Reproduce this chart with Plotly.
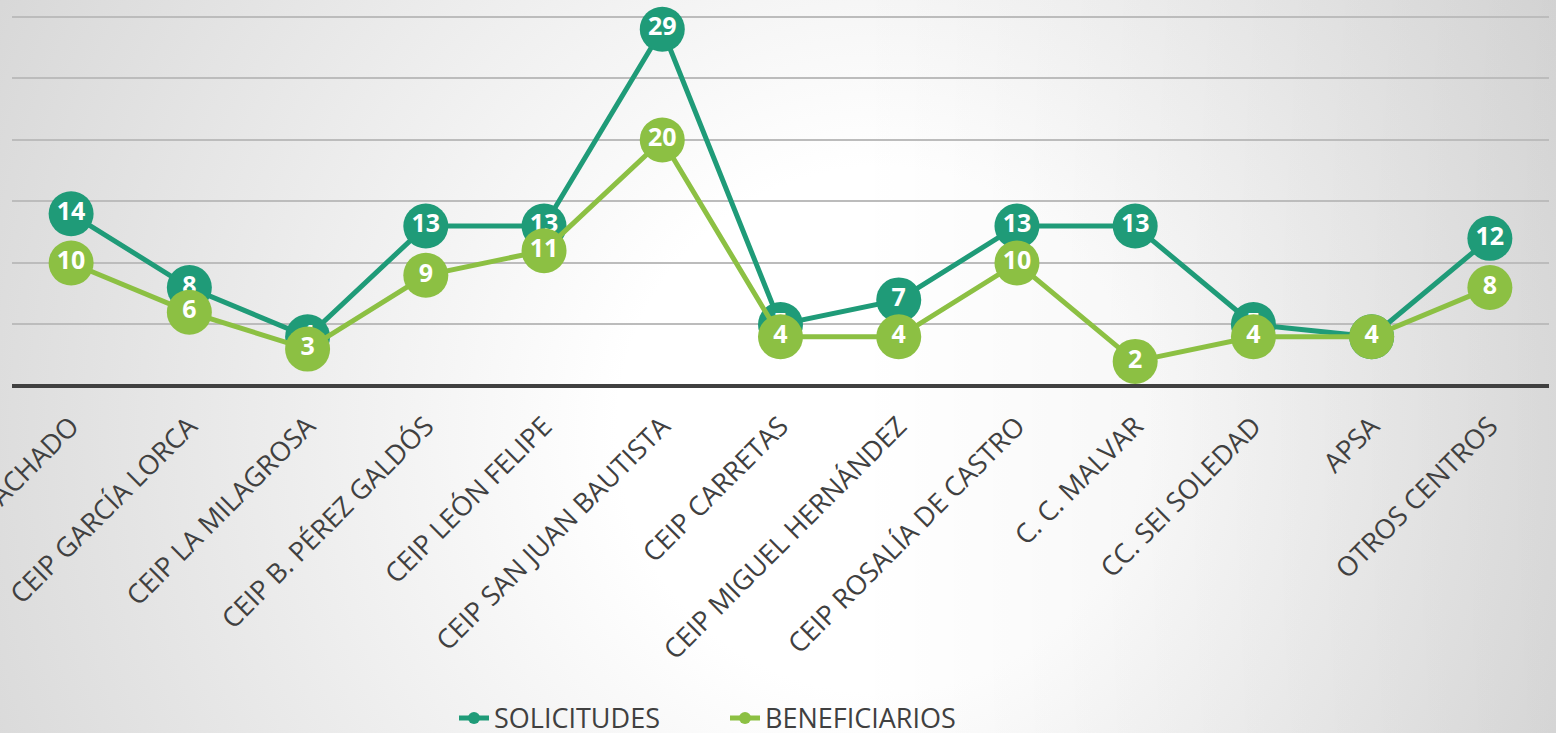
import base64
import plotly.graph_objects as go

categories = ["CEIP ANTONIO MACHADO", "CEIP GARCÍA LORCA", "CEIP LA MILAGROSA",
              "CEIP B. PÉREZ GALDÓS", "CEIP LEÓN FELIPE", "CEIP SAN JUAN BAUTISTA",
              "CEIP CARRETAS", "CEIP MIGUEL HERNÁNDEZ", "CEIP ROSALÍA DE CASTRO",
              "C. C. MALVAR", "CC. SEI SOLEDAD", "APSA", "OTROS CENTROS"]
solicitudes = [14, 8, 4, 13, 13, 29, 5, 7, 13, 13, 5, 4, 12]
beneficiarios = [10, 6, 3, 9, 11, 20, 4, 4, 10, 2, 4, 4, 8]

DARK = "#1f9b78"
LIGHT = "#8cc043"

svg = ('<svg xmlns="http://www.w3.org/2000/svg" width="1556" height="733" viewBox="0 0 1556 733" preserveAspectRatio="none">'
       '<defs><radialGradient id="g" gradientUnits="userSpaceOnUse" cx="880" cy="430" r="1050">'
       '<stop offset="0" stop-color="#ffffff"/><stop offset="0.25" stop-color="#ffffff"/>'
       '<stop offset="1" stop-color="#d4d4d4"/></radialGradient>'
       '<linearGradient id="h" x1="0" y1="0" x2="1" y2="0">'
       '<stop offset="0.55" stop-color="#000" stop-opacity="0"/>'
       '<stop offset="1" stop-color="#000" stop-opacity="0.07"/></linearGradient></defs>'
       '<rect width="1556" height="733" fill="url(#g)"/>'
       '<rect width="1556" height="733" fill="url(#h)"/></svg>')
src = "data:image/svg+xml;base64," + base64.b64encode(svg.encode()).decode()

fig = go.Figure()
for name, vals, col in [("SOLICITUDES", solicitudes, DARK), ("BENEFICIARIOS", beneficiarios, LIGHT)]:
    fig.add_trace(go.Scatter(
        x=categories, y=vals, name=name, mode="lines+markers+text",
        line=dict(color=col, width=5),
        marker=dict(color=col, size=45),
        text=[str(v) for v in vals], textposition="middle center",
        textfont=dict(family="Open Sans", size=25, color="white", weight="bold"),
        cliponaxis=False,
    ))

PH = 374  # plot height in px
fig.update_layout(
    width=1556, height=733,
    margin=dict(l=12, r=7, t=12, b=347),
    paper_bgcolor="rgba(0,0,0,0)", plot_bgcolor="rgba(0,0,0,0)",
    images=[dict(source=src, xref="paper", yref="paper", x=-12/1537, y=1+12/PH,
                 sizex=1556/1537, sizey=733/PH, sizing="stretch",
                 xanchor="left", yanchor="top", layer="below")],
    xaxis=dict(range=[-0.5, 12.5], showgrid=False, zeroline=False, showline=False,
               tickangle=-45, ticks="", automargin=False, ticklabelstandoff=18,
               tickfont=dict(family="Open Sans", size=27, color="#404040")),
    yaxis=dict(range=[0, 30.4], tickvals=[0, 5, 10, 15, 20, 25, 30], showticklabels=False,
               showgrid=True, gridcolor="#bcbcbc", gridwidth=1.5, zeroline=True,
               zerolinecolor="#404040", zerolinewidth=3.5, automargin=False),
    showlegend=True,
    legend=dict(orientation="h", xref="container", yref="container", x=454/1556, y=0.02,
                xanchor="left", yanchor="middle", itemsizing="constant",
                entrywidth=226, entrywidthmode="pixels",
                font=dict(family="Open Sans", size=27, color="#404040"),
                bgcolor="rgba(0,0,0,0)"),
)
fig.write_html("out.html", config={"displayModeBar": False},
               post_script="document.body.style.margin='0';document.body.style.overflow='hidden';")
